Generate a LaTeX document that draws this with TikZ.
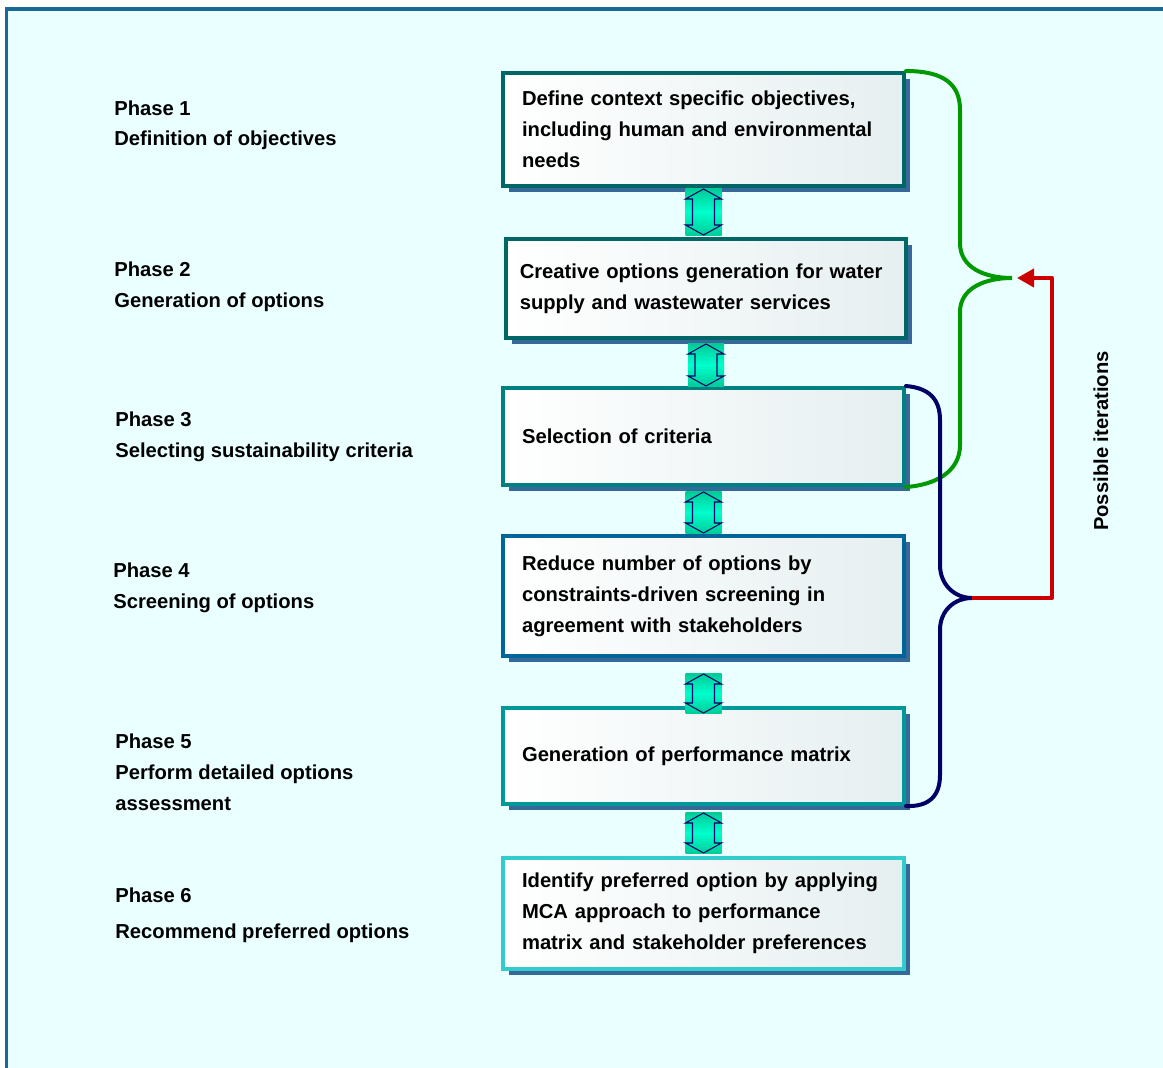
\documentclass[tikz,border=0pt]{standalone}
\usepackage{fontspec}
\setmainfont{Liberation Sans}
\usetikzlibrary{calc,shadows,arrows.meta}
\definecolor{framefill}{RGB}{234,255,255}
\definecolor{frameline}{RGB}{24,104,152}
\definecolor{shadowblue}{RGB}{54,104,154}
\definecolor{boxend}{RGB}{230,239,240}
\definecolor{tealA}{RGB}{0,102,102}
\definecolor{tealB}{RGB}{0,128,128}
\definecolor{blueD}{RGB}{0,102,153}
\definecolor{tealE}{RGB}{0,153,153}
\definecolor{cyanF}{RGB}{51,204,204}
\definecolor{bracegreen}{RGB}{0,153,0}
\definecolor{bracenavy}{RGB}{0,0,102}
\definecolor{iterred}{RGB}{204,0,0}
\definecolor{arrowedge}{RGB}{0,204,153}
\definecolor{arrowmid}{RGB}{0,255,204}
% two-way arrow between phase boxes: top node, bottom node, top gap, bottom gap (px)
\newcommand\phasearrow[4]{%
  \path let \p1=($(#1.south)+(0,#3)$), \p2=($(#2.north)+(0,#4)$) in
    [arrowbg] (\x1-0.36cm,\y1) rectangle (\x1+0.36cm,\y2);
  \path let \p1=($(#1.south)+(0,#3)$), \p2=($(#2.north)+(0,#4)$) in
    [arrowline] (\x1,\y1) -- (\x1+0.36cm,\y1-0.2cm) -- (\x1+0.22cm,\y1-0.2cm)
    -- (\x1+0.22cm,\y2+0.2cm) -- (\x1+0.36cm,\y2+0.2cm) -- (\x1,\y2)
    -- (\x1-0.36cm,\y2+0.2cm) -- (\x1-0.22cm,\y2+0.2cm) -- (\x1-0.22cm,\y1-0.2cm)
    -- (\x1-0.36cm,\y1-0.2cm) -- cycle;
}
\begin{document}
\begin{tikzpicture}[x=0.02cm, y=-0.02cm,
  stepbox/.style={draw, line width=0.08cm, minimum width=8.02cm, text width=7.26cm,
    align=left, inner xsep=0pt, left color=white, right color=boxend,
    drop shadow={shadow xshift=0.12cm, shadow yshift=-0.12cm, fill=shadowblue, opacity=1},
    font=\bfseries\fontsize{11.5}{17.6}\selectfont},
  phaselabel/.style={anchor=base west, align=left, inner sep=0pt,
    font=\bfseries\fontsize{11.5}{17.6}\selectfont},
  brace/.style={line width=0.08cm, line cap=round},
  iterline/.style={draw=iterred, line width=0.08cm, line join=round,
    -{Triangle[length=0.34cm,width=0.36cm]}},
  arrowbg/.style={top color=arrowedge, bottom color=arrowedge, middle color=arrowmid},
  arrowline/.style={draw=bracenavy, line width=0.6pt}]
\useasboundingbox (0,0) rectangle (1163,1068);
\fill[white] (0,0) rectangle (1163,1068);
\draw[draw=frameline, fill=framefill, line width=0.07cm] (6.5,9) rectangle (1200,1100);

% phases (placed by the baseline of their last line)
\node[phaselabel] (p1) at (114,146) {Phase 1\\Definition of objectives};
\node[phaselabel] (p2) at (114,307) {Phase 2\\Generation of options};
\node[phaselabel] (p3) at (115,457) {Phase 3\\Selecting sustainability criteria};
\node[phaselabel] (p4) at (113,608) {Phase 4\\Screening of options};
\node[phaselabel] (p5) at (115,810) {Phase 5\\Perform detailed options\\assessment};
\node[phaselabel] (p6) at (115,938) {Phase 6\\[0.1cm]Recommend preferred options};

% boxes
\node[stepbox, draw=tealA, minimum height=2.26cm] (b1) at (703.5,129.5)
  {Define context specific objectives,\\including human and environmental\\needs};
\node[stepbox, draw=tealA, minimum height=1.98cm, text width=7.45cm] (b2) at (706,288.5)
  {Creative options generation for water\\supply and wastewater services};
\node[stepbox, draw=tealB, minimum height=1.94cm] (b3) at (703.5,436.5)
  {Selection of criteria};
\node[stepbox, draw=blueD, minimum height=2.4cm] (b4) at (703.5,596)
  {Reduce number of options by\\constraints-driven screening in\\agreement with stakeholders};
\node[stepbox, draw=tealE, minimum height=1.92cm] (b5) at (703.5,756)
  {Generation of performance matrix};
\node[stepbox, draw=cyanF, minimum height=2.22cm] (b6) at (703.5,913.5)
  {Identify preferred option by applying\\MCA approach to performance\\matrix and stakeholder preferences};

\phasearrow{b1}{b2}{1}{-2}
\phasearrow{b2}{b3}{4}{0}
\phasearrow{b3}{b4}{5}{-1}
\phasearrow{b4}{b5}{16}{7}
\phasearrow{b5}{b6}{7}{-3}

% iterations
\coordinate (gtip) at (1012,278);
\coordinate (btip) at (972,598);
\draw[brace, bracegreen] (b1.north east) .. controls (945,71) and (960,85) .. (960,110)
  -- (960,243) .. controls (960,268) and (985,278) .. (gtip)
  .. controls (985,278) and (960,288) .. (960,312)
  -- (960,445) .. controls (960,472) and (935,485) .. (b3.south east);
\draw[brace, bracenavy] (b3.north east) .. controls (930,388) and (940,400) .. (940,420)
  -- (940,565) .. controls (940,585) and (955,598) .. (btip)
  .. controls (955,598) and (940,610) .. (940,630)
  -- (940,775) .. controls (940,795) and (930,807) .. (b5.south east);
\draw[iterline] (btip) -| (1052,278) -- ([xshift=0.1cm]gtip);
\node[rotate=90, font=\bfseries\fontsize{11.5}{14}\selectfont] (iter) at (1101,441) {Possible iterations};
\end{tikzpicture}
\end{document}
